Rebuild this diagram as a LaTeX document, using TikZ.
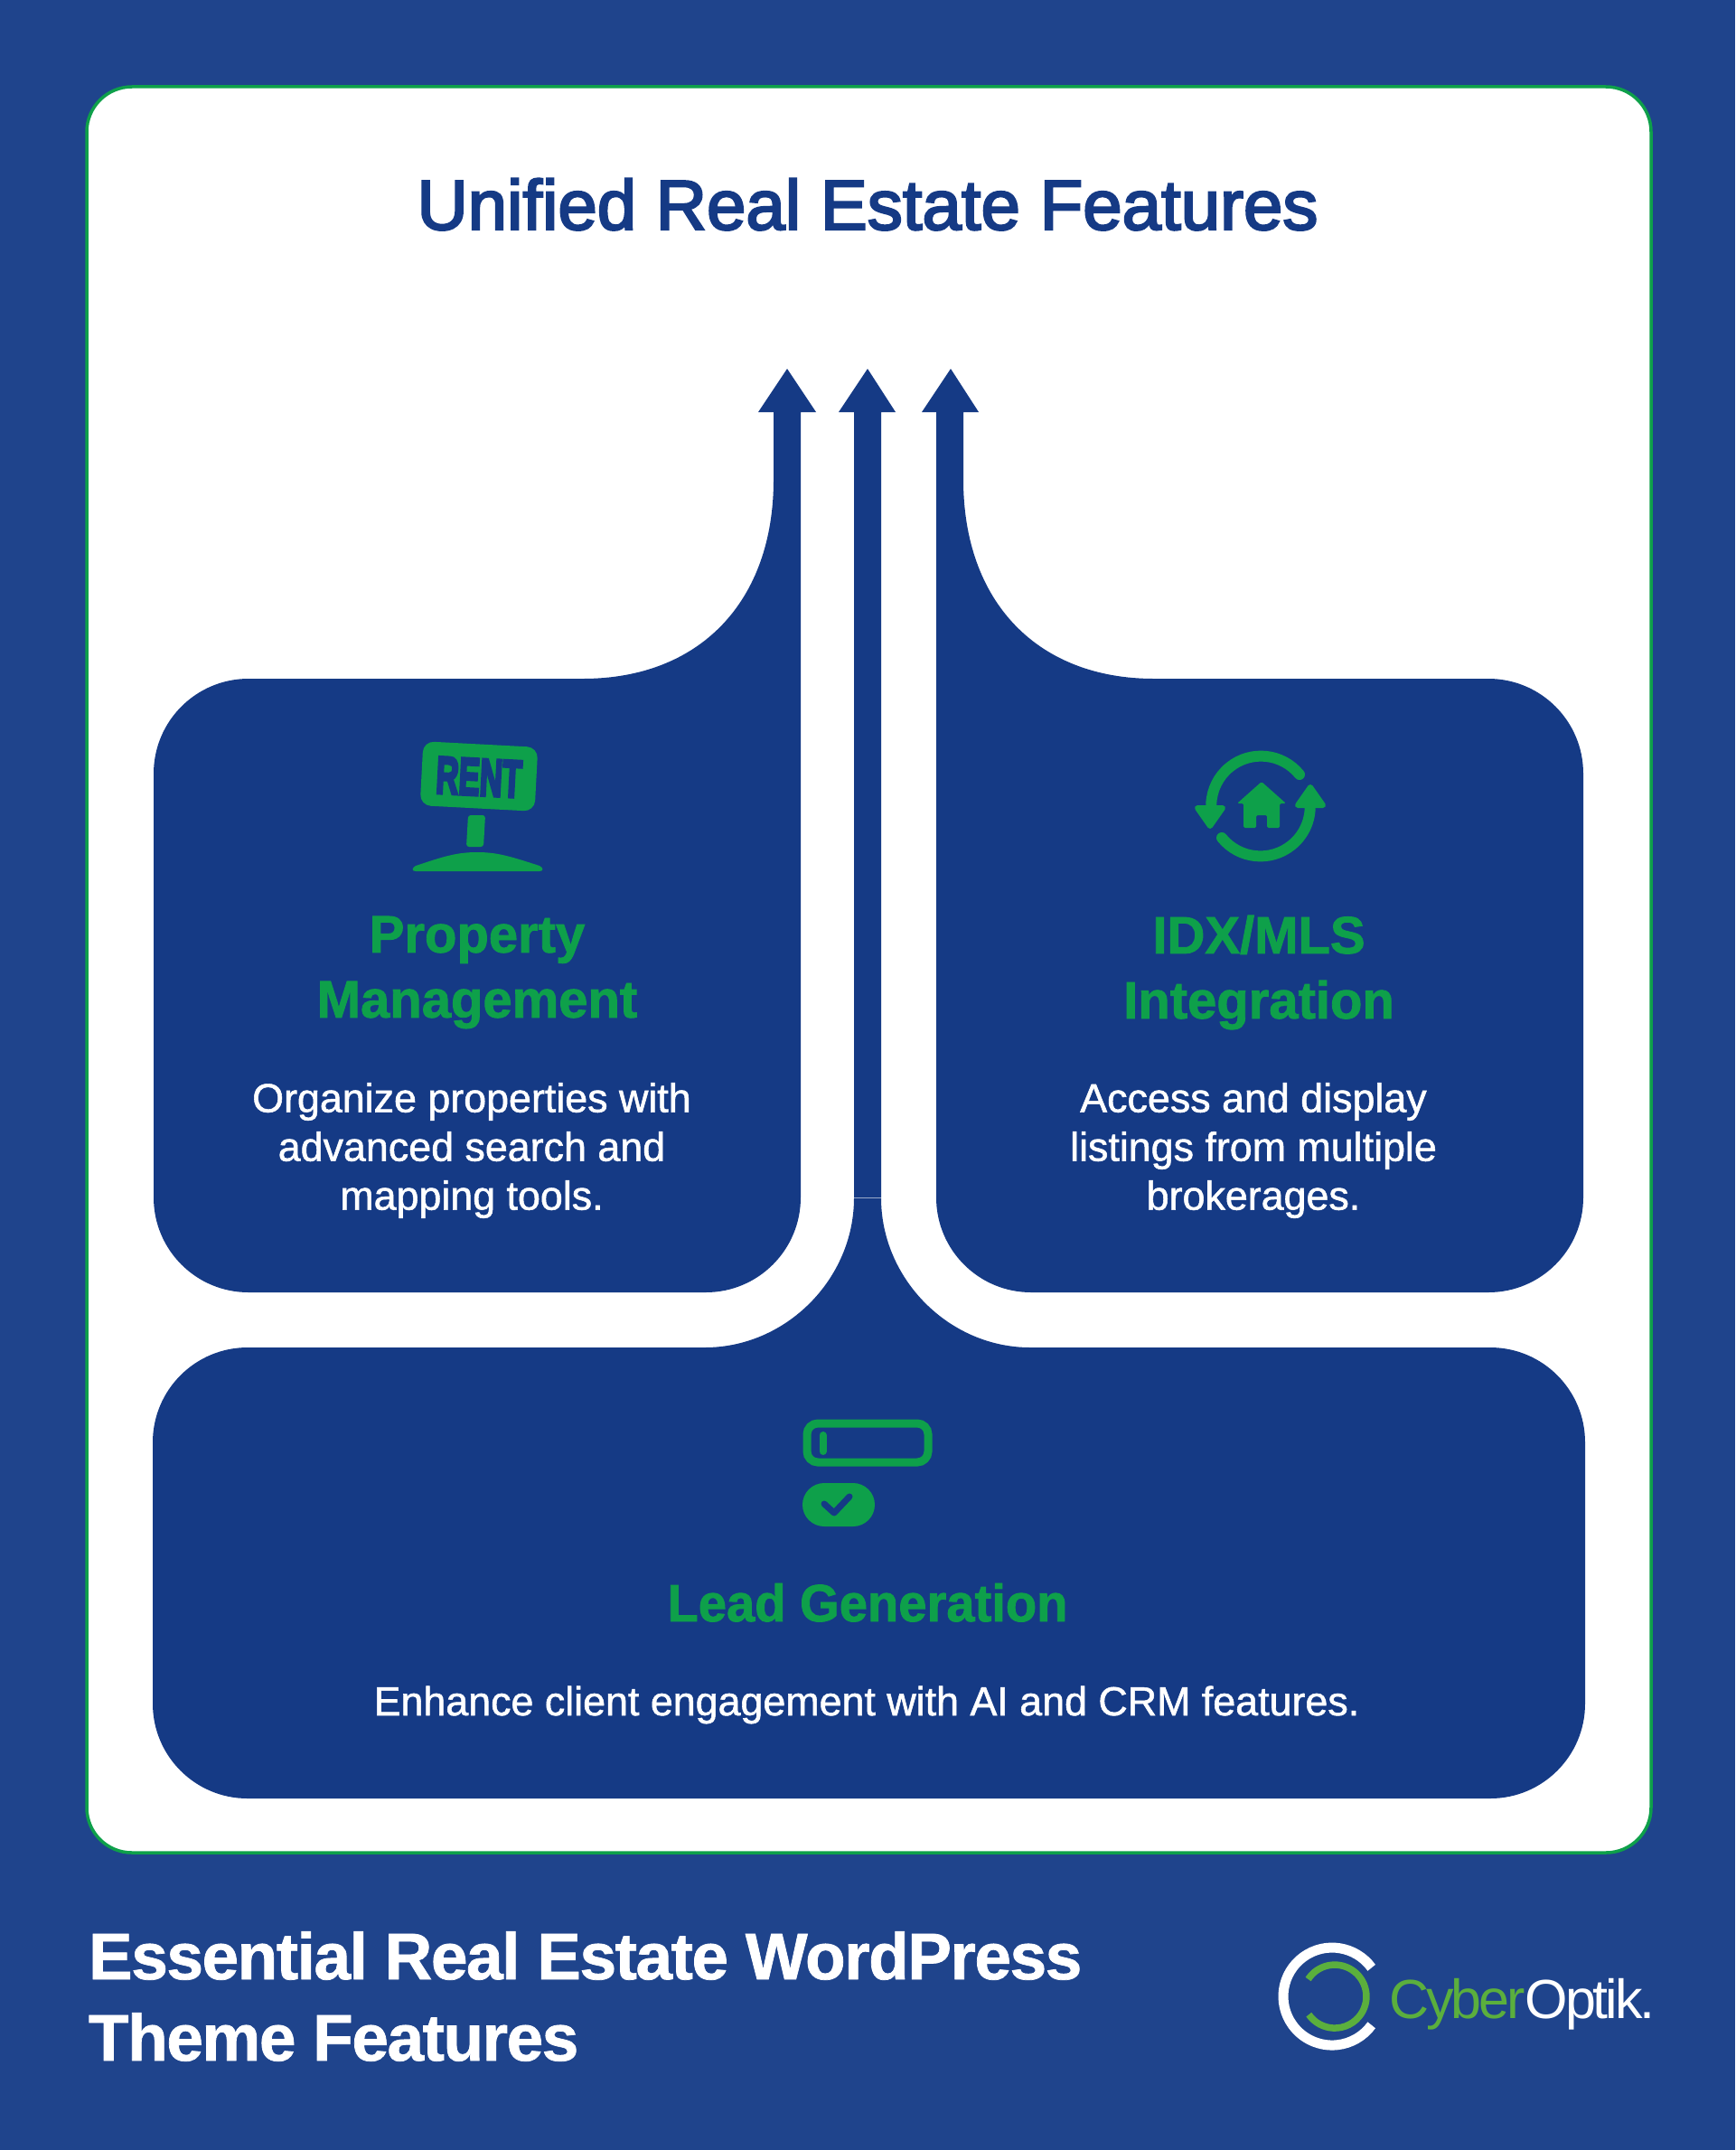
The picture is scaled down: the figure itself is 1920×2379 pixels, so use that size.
\documentclass[tikz,border=0pt]{standalone}
\usepackage{fontspec}
\setmainfont{Liberation Sans}
\newfontfamily\titlefont[FakeBold=3]{Liberation Sans}
\newfontfamily\medfont[FakeBold=1.2]{Liberation Sans}
\newfontfamily\headfont[FakeBold=1.5]{Liberation Sans Bold}
\newfontfamily\rentfont[FakeBold=6]{Liberation Sans Bold}
\newfontfamily\footfont[LetterSpace=-2,FakeBold=1]{Liberation Sans Bold}
\newfontfamily\logofont[LetterSpace=-5]{Liberation Sans}
\definecolor{pagebg}{HTML}{1F448C}
\definecolor{navy}{HTML}{153A85}
\definecolor{leaf}{HTML}{0EA04A}
\definecolor{logogreen}{HTML}{5BAF3D}
\tikzset{
  blob/.style={fill=navy,draw=none},
  icon/.style={fill=leaf,draw=none},
  titletext/.style={text=navy,anchor=base,font=\titlefont\fontsize{78}{90}\selectfont},
  headtext/.style={text=leaf,align=center,font=\headfont\fontsize{58}{72}\selectfont},
  bodytext/.style={text=white,align=center,font=\medfont\fontsize{44.8}{54}\selectfont},
  foottext/.style={text=white,align=left,anchor=west,font=\footfont\fontsize{73}{90}\selectfont},
}
\begin{document}
\begin{tikzpicture}[x=1pt,y=-1pt,inner sep=0pt,outer sep=0pt]
\useasboundingbox (0,0) rectangle (1920,2379);
\fill[pagebg] (0,0) rectangle (1920,2379);
% card
\draw[leaf,line width=3.5pt,fill=white,rounded corners=50pt] (96,96) rectangle (1827,2050);
% left blob with arrow
\path[blob] (903,456) -- (871,408) -- (839,456) -- (856,456) -- (856,531)
  .. controls (856,665) and (775,751) .. (645,751)
  -- (275,751) .. controls (217,751) and (170,798) .. (170,856)
  -- (170,1325) .. controls (170,1383) and (217,1430) .. (275,1430)
  -- (781,1430) .. controls (839,1430) and (886,1383) .. (886,1325)
  -- (886,456) -- cycle;
% right blob with arrow
\path[blob] (1020,456) -- (1052,408) -- (1083,456) -- (1066,456) -- (1066,531)
  .. controls (1066,665) and (1147,751) .. (1277,751)
  -- (1647,751) .. controls (1705,751) and (1752,798) .. (1752,856)
  -- (1752,1325) .. controls (1752,1383) and (1705,1430) .. (1647,1430)
  -- (1141,1430) .. controls (1083,1430) and (1036,1383) .. (1036,1325)
  -- (1036,456) -- cycle;
% middle arrow
\path[blob] (991,456) -- (960,408) -- (928,456) -- (945,456) -- (945,1325) -- (975,1325) -- (975,456) -- cycle;
% lower blob
\path[blob] (945,1325.6) .. controls (945,1415) and (870,1491) .. (780,1491)
  -- (274,1491) .. controls (216,1491) and (169,1538) .. (169,1596)
  -- (169,1885) .. controls (169,1943) and (216,1990) .. (274,1990)
  -- (1649,1990) .. controls (1707,1990) and (1754,1943) .. (1754,1885)
  -- (1754,1596) .. controls (1754,1538) and (1707,1491) .. (1649,1491)
  -- (1140,1491) .. controls (1050,1491) and (975,1415) .. (975,1325.6) -- cycle;
% title
\node[titletext] (title) at (960,254) {Unified Real Estate Features};
% rent icon
\node[icon,rotate=-3,minimum width=127pt,minimum height=71pt,rounded corners=12pt,anchor=center] (rent) at (530,859) {};
\node[text=navy,rotate=-3,font=\rentfont\fontsize{58}{58}\selectfont,xscale=0.6,anchor=center] (renttext) at (530,860) {RENT};
\path[icon,rounded corners=3pt] (518,902) -- (537,902) -- (535,937) -- (516,937) -- cycle;
\path[icon] (460,964) .. controls (455,964) and (456,960) .. (460,958)
  .. controls (490,948) and (505,943) .. (528,943)
  .. controls (551,943) and (566,948) .. (597,958)
  .. controls (601,960) and (602,964) .. (597,964) -- cycle;
% sync icon
\draw[leaf,line width=12pt,line cap=round] (1438,857) arc[start angle=-39,end angle=-178,radius=55];
\draw[leaf,line width=12pt,line cap=round] (1352,927) arc[start angle=-219,end angle=-360,radius=55];
\path[icon,draw=leaf,line width=6pt,line join=round] (1325,894) -- (1353,894) -- (1339,914) -- cycle;
\path[icon,draw=leaf,line width=6pt,line join=round] (1436,891) -- (1464,891) -- (1450,871) -- cycle;
\path[icon,rounded corners=1.5pt] (1396,865) -- (1423,889) -- (1416,889) -- (1416,916) -- (1402,916) -- (1402,902) -- (1390,902) -- (1390,916) -- (1376,916) -- (1376,889) -- (1369,889) -- cycle;
% form icon
\draw[leaf,line width=9pt,rounded corners=12pt] (893,1575) rectangle (1027,1618);
\draw[leaf,line width=8pt,line cap=round] (910.5,1588) -- (910.5,1606);
\path[icon,rounded corners=24pt] (888,1641) rectangle (968,1689);
\draw[navy,line width=7pt,line cap=round,line join=round] (912,1664) -- (923,1674) -- (940,1656);
% card texts
\node[headtext] (h1) at (528,1076) {Property\\Management};
\node[bodytext] (b1) at (522,1273) {Organize properties with\\advanced search and\\mapping tools.};
\node[headtext] (h2) at (1393,1076) {IDX/MLS\\Integration};
\node[bodytext] (b2) at (1387,1273) {Access and display\\listings from multiple\\brokerages.};
\node[headtext,anchor=base,xscale=0.968] (h3) at (960,1794) {Lead Generation};
\node[bodytext,anchor=base] (b3) at (959,1898) {Enhance client engagement with AI and CRM features.};
% footer
\node[foottext] (foot) at (98,2209) {Essential Real Estate WordPress\\Theme Features};
% logo
\draw[white,line width=11pt] (1517.7,2177.3) arc[start angle=-36,end angle=-324,radius=54];
\draw[logogreen,line width=7.5pt] (1447.6,2190) arc[start angle=-147,end angle=145,radius=35];
\node[anchor=base west,font=\logofont\fontsize{61}{61}\selectfont] (logo) at (1537,2233) {\textcolor{logogreen}{Cyber}\textcolor{white}{Optik.}};
\end{tikzpicture}
\end{document}
